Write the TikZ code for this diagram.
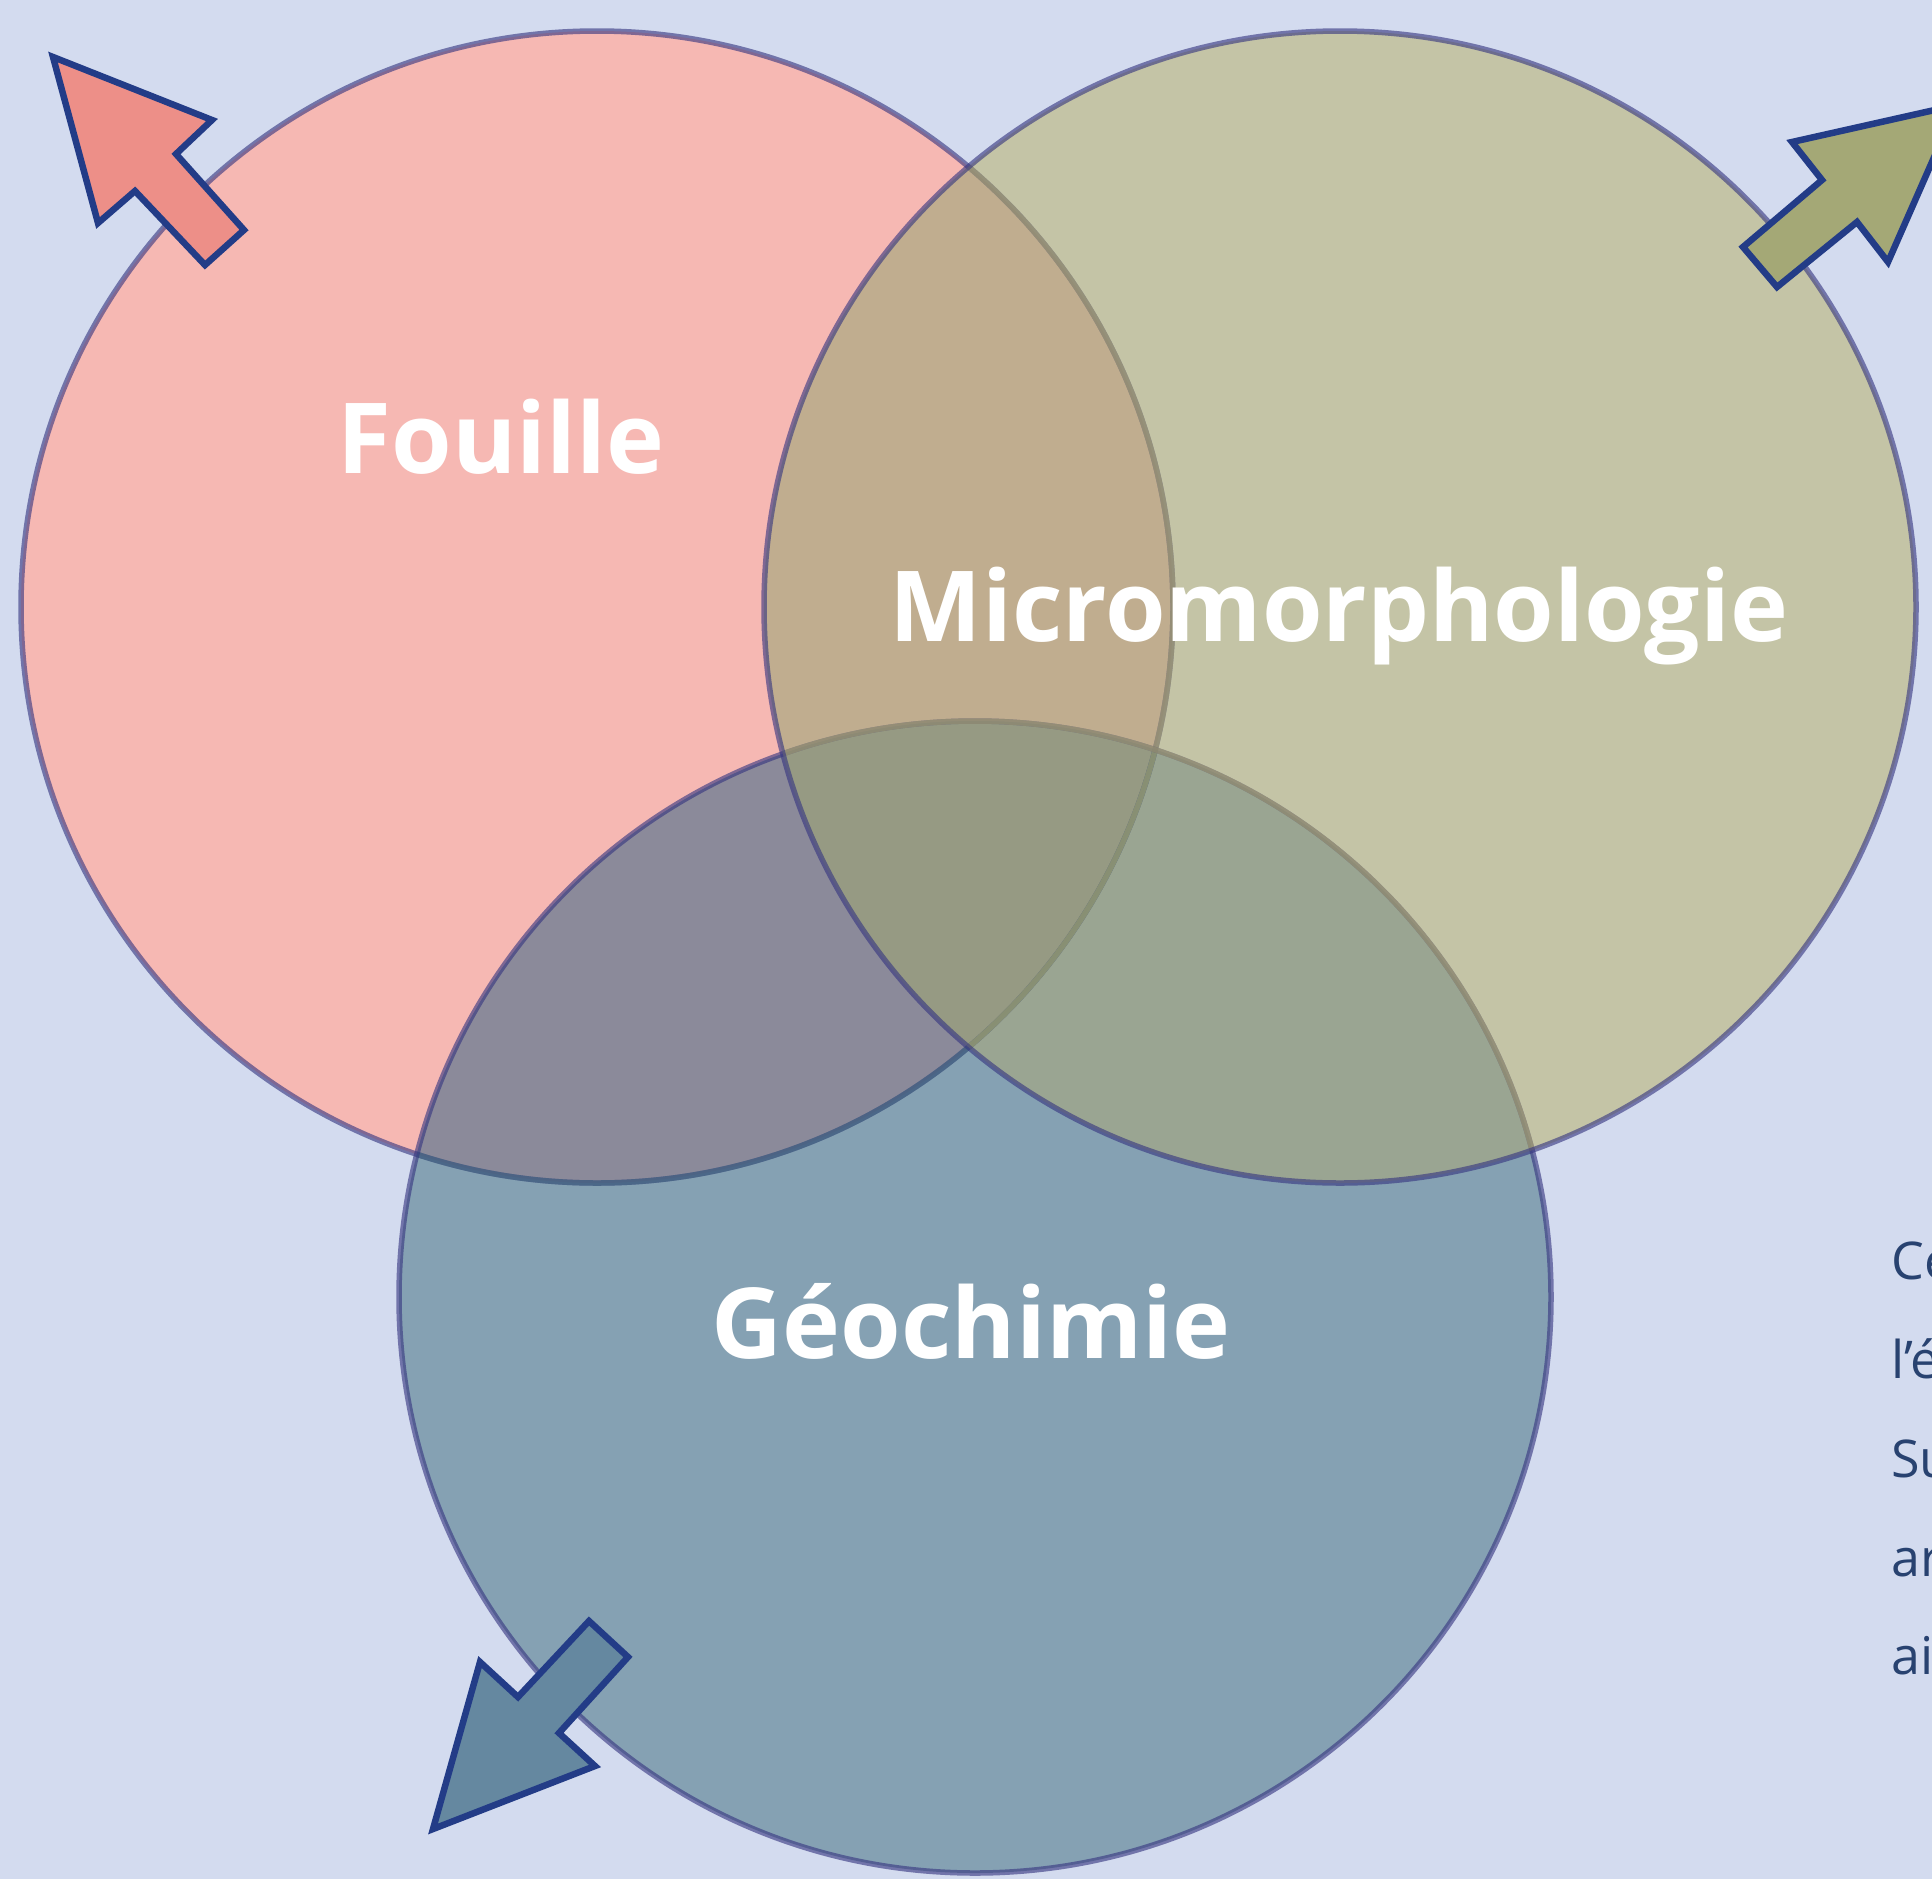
\documentclass[tikz,border=0pt]{standalone}
\usepackage{fontspec}
\setmainfont{Open Sans}
\begin{document}
\begin{tikzpicture}[x=1pt,y=-1pt,
  lbl/.style={text=white,font=\bfseries\fontsize{98}{114}\selectfont,inner sep=0pt,anchor=base},
  side/.style={text=sidetext,font=\fontsize{52}{60}\selectfont,inner sep=0pt,anchor=base west},
  ring/.style={draw=ringline,draw opacity=0.62,line width=5.5pt},
  veil/.style={draw opacity=0.55,line width=5.5pt},
  blockarrow/.style={draw=arrowline,line width=6.5pt,line join=miter}]
\definecolor{bg}{RGB}{211,219,239}
\definecolor{pinkA}{RGB}{246,184,179}
\definecolor{oliveA}{RGB}{196,196,166}
\definecolor{blueA}{RGB}{133,161,179}
\definecolor{pinkolive}{RGB}{192,173,143}
\definecolor{pinkblue}{RGB}{139,138,154}
\definecolor{oliveblue}{RGB}{154,165,146}
\definecolor{allthree}{RGB}{150,154,131}
\definecolor{oliveveil}{RGB}{184,177,106}
\definecolor{blueveil}{RGB}{69,112,128}
\definecolor{ringline}{RGB}{54,54,128}
\definecolor{arrowline}{RGB}{35,60,135}
\definecolor{pinkarrow}{RGB}{237,143,136}
\definecolor{olivearrow}{RGB}{164,168,118}
\definecolor{bluearrow}{RGB}{101,136,160}
\definecolor{sidetext}{RGB}{40,66,112}
\useasboundingbox (0,0) rectangle (1932,1879);
\fill[bg] (0,0) rectangle (1932,1879);
\clip (0,0) rectangle (1932,1879);
\coordinate (c1) at (597,607);
\coordinate (c2) at (1340,607);
\coordinate (c3) at (975,1297);
\def\R{576}
% region fills
\fill[pinkA] (c1) circle[radius=\R];
\fill[oliveA] (c2) circle[radius=\R];
\fill[blueA] (c3) circle[radius=\R];
\begin{scope}
  \clip (c2) circle[radius=\R];
  \fill[oliveblue] (c3) circle[radius=\R];
\end{scope}
\begin{scope}
  \clip (c1) circle[radius=\R];
  \fill[pinkolive] (c2) circle[radius=\R];
  \fill[pinkblue] (c3) circle[radius=\R];
  \clip (c2) circle[radius=\R];
  \fill[allthree] (c3) circle[radius=\R];
\end{scope}
% borders, bottom to top: 1, 3, 2
\draw[ring] (c1) circle[radius=\R];
\begin{scope}
  \clip (c3) circle[radius=\R];
  \draw[veil,draw=blueveil] (c1) circle[radius=\R];
\end{scope}
\begin{scope}
  \clip (c2) circle[radius=\R];
  \draw[veil,draw=oliveveil] (c1) circle[radius=\R];
\end{scope}
\draw[ring] (c3) circle[radius=\R];
\begin{scope}
  \clip (c2) circle[radius=\R];
  \draw[veil,draw=oliveveil] (c3) circle[radius=\R];
\end{scope}
\draw[ring] (c2) circle[radius=\R];
% block arrows
\draw[blockarrow,fill=pinkarrow] (53,57) -- (212,120) -- (176,154) -- (244,230)
  -- (205,265) -- (135,191) -- (98,223) -- cycle;
\draw[blockarrow,fill=olivearrow] (1957,105) -- (1888,262) -- (1857,222) -- (1777,287)
  -- (1743,247) -- (1822,180) -- (1792,142) -- cycle;
\draw[blockarrow,fill=bluearrow] (433,1829) -- (480,1662) -- (518,1697) -- (589,1621)
  -- (628,1657) -- (559,1733) -- (595,1766) -- cycle;
% labels
\node[lbl] (fouille) at (501,473) {Fouille};
\node[lbl] (micro) at (1339,641) {Micromorphologie};
\node[lbl] (geo) at (971,1358) {Géochimie};
% side text, cut off by the right edge as in the reference
\node[side] (s1) at (1891,1279) {Ce};
\node[side] (s2) at (1891,1378) {l’é};
\node[side] (s3) at (1891,1477) {Su};
\node[side] (s4) at (1891,1576) {ar};
\node[side] (s5) at (1891,1674) {ai};
\end{tikzpicture}
\end{document}
